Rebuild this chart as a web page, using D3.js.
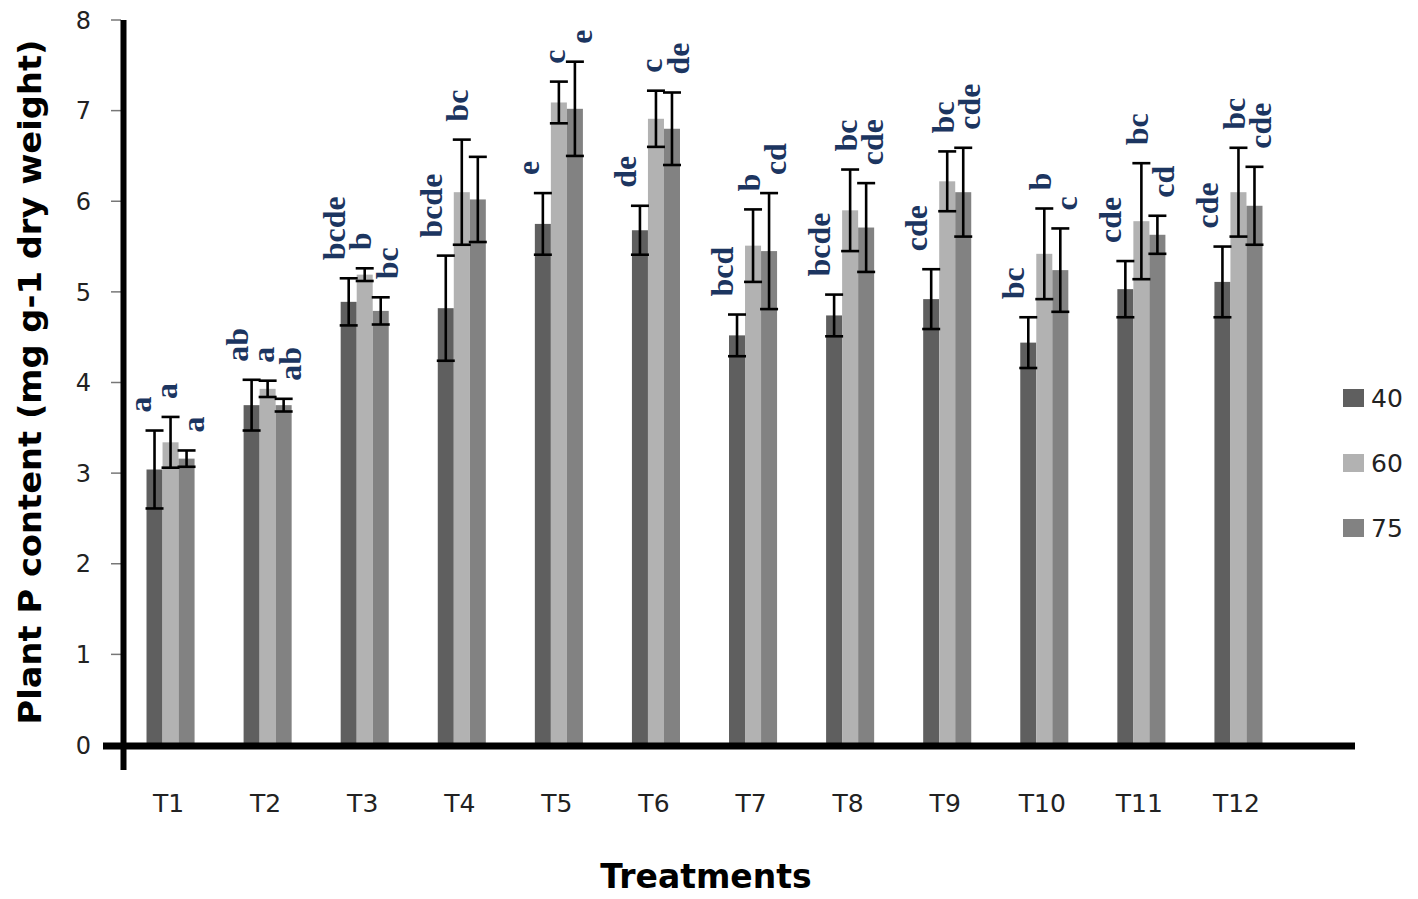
<!DOCTYPE html>
<html><head><meta charset="utf-8">
<script src="https://cdn.jsdelivr.net/npm/d3@7"></script>
<style>body{margin:0;background:#fff}svg{display:block}</style>
</head><body>
<svg id="c" width="1418" height="899"></svg>
<script>
const categories = ["T1","T2","T3","T4","T5","T6","T7","T8","T9","T10","T11","T12"];
const seriesNames = ["40","60","75"];
const values40 = [3.04,3.75,4.89,4.82,5.75,5.68,4.52,4.74,4.92,4.44,5.03,5.11];
const values60 = [3.34,3.93,5.19,6.10,7.09,6.91,5.51,5.90,6.22,5.42,5.78,6.10];
const values75 = [3.16,3.75,4.79,6.02,7.02,6.80,5.45,5.71,6.10,5.24,5.63,5.95];
const err40 = [0.43,0.28,0.26,0.58,0.34,0.27,0.23,0.23,0.33,0.28,0.31,0.39];
const err60 = [0.28,0.09,0.07,0.58,0.23,0.31,0.40,0.45,0.33,0.50,0.64,0.49];
const err75 = [0.09,0.07,0.15,0.47,0.52,0.40,0.64,0.49,0.49,0.46,0.21,0.43];
const letters40 = ["a","ab","bcde","bcde","e","de","bcd","bcde","cde","bc","cde","cde"];
const letters60 = ["a","a","b","bc","c","c","b","bc","bc","b","bc","bc"];
const letters75 = ["a","ab","bc","","e","de","cd","cde","cde","c","cd","cde"];
const yTicks = [0,1,2,3,4,5,6,7,8];

const colors = ["#5f5f5f","#b2b2b2","#828282"];
const vals = [values40, values60, values75];
const errs = [err40, err60, err75];
const lets = [letters40, letters60, letters75];

const svg = d3.select("#c");
const y = d3.scaleLinear().domain([0,8]).range([745,20]);
const x0 = d3.scaleBand().domain(categories).range([122,1287]).paddingInner(0.505).paddingOuter(0.2525);
const x1 = d3.scaleBand().domain(seriesNames).range([0, x0.bandwidth()]);
const xl = d3.scalePoint().domain(seriesNames).range([-20, 33]);

const data = [];
categories.forEach((c,i)=>{
  seriesNames.forEach((s,j)=>{
    data.push({cat:c, s:s, j:j, v:vals[j][i], e:errs[j][i], l:lets[j][i]});
  });
});

// bars
svg.append("g").selectAll("rect").data(data).join("rect")
  .attr("x", d=>x0(d.cat)+x1(d.s))
  .attr("y", d=>y(d.v))
  .attr("width", x1.bandwidth())
  .attr("height", d=>y(0)-y(d.v))
  .attr("fill", d=>colors[d.j]);

// error bars
const eg = svg.append("g").attr("stroke","#000").attr("stroke-width",2.6);
data.forEach(d=>{
  const cx = x0(d.cat)+x1(d.s)+x1.bandwidth()/2;
  eg.append("line").attr("x1",cx).attr("x2",cx).attr("y1",y(d.v+d.e)).attr("y2",y(d.v-d.e));
  [d.v+d.e, d.v-d.e].forEach(t=>{
    eg.append("line").attr("x1",cx-9).attr("x2",cx+9).attr("y1",y(t)).attr("y2",y(t));
  });
});

// letters
svg.append("g").selectAll("text").data(data.filter(d=>d.l)).join("text")
  .attr("transform", d=>{
    const cx = x0(d.cat)+x0.bandwidth()/2 + xl(d.s);
    return `translate(${cx},${y(d.v+d.e)-18}) rotate(-90)`;
  })
  .attr("font-family","'Liberation Serif','DejaVu Serif',serif")
  .attr("font-weight","bold")
  .attr("font-size",32)
  .attr("fill","#1c3560")
  .text(d=>d.l);

// y axis ticks
const yg = svg.append("g");
yg.selectAll("line").data(yTicks).join("line")
  .attr("x1",111).attr("x2",121).attr("y1",d=>y(d)).attr("y2",d=>y(d))
  .attr("stroke","#777").attr("stroke-width",1.5);
yg.selectAll("text").data(yTicks).join("text")
  .attr("x",91).attr("y",d=>y(d)).attr("dy","0.36em")
  .attr("text-anchor","end")
  .attr("font-family","'DejaVu Sans',Verdana,sans-serif")
  .attr("font-size",24).attr("fill","#222")
  .text(d=>d);

// axis lines
svg.append("line").attr("x1",123.5).attr("x2",123.5).attr("y1",y(8)).attr("y2",770)
  .attr("stroke","#000").attr("stroke-width",6);
svg.append("line").attr("x1",103).attr("x2",1355).attr("y1",y(0)+1).attr("y2",y(0)+1)
  .attr("stroke","#000").attr("stroke-width",7);

// x labels
svg.append("g").selectAll("text").data(categories).join("text")
  .attr("x",d=>x0(d)+x0.bandwidth()/2-2).attr("y",812)
  .attr("text-anchor","middle")
  .attr("font-family","'DejaVu Sans',Verdana,sans-serif")
  .attr("font-size",25).attr("fill","#222")
  .text(d=>d);

// axis titles
svg.append("text").attr("x",706).attr("y",888).attr("text-anchor","middle")
  .attr("font-family","'DejaVu Sans',Verdana,sans-serif").attr("font-weight","bold")
  .attr("font-size",33).attr("fill","#000").text("Treatments");
svg.append("text").attr("transform","translate(41,382) rotate(-90)").attr("text-anchor","middle")
  .attr("font-family","'DejaVu Sans',Verdana,sans-serif").attr("font-weight","bold")
  .attr("font-size",32).attr("fill","#000")
  .attr("textLength",685).attr("lengthAdjust","spacingAndGlyphs")
  .text("Plant P content (mg g-1 dry weight)");

// legend
const lg = svg.append("g");
seriesNames.forEach((s,j)=>{
  const ly = 398 + j*65;
  lg.append("rect").attr("x",1343).attr("y",ly-9).attr("width",21).attr("height",18).attr("fill",colors[j]);
  lg.append("text").attr("x",1371).attr("y",ly).attr("dy","0.36em")
    .attr("font-family","'DejaVu Sans',Verdana,sans-serif").attr("font-size",25).attr("fill","#222").text(s);
});
</script>
</body></html>
